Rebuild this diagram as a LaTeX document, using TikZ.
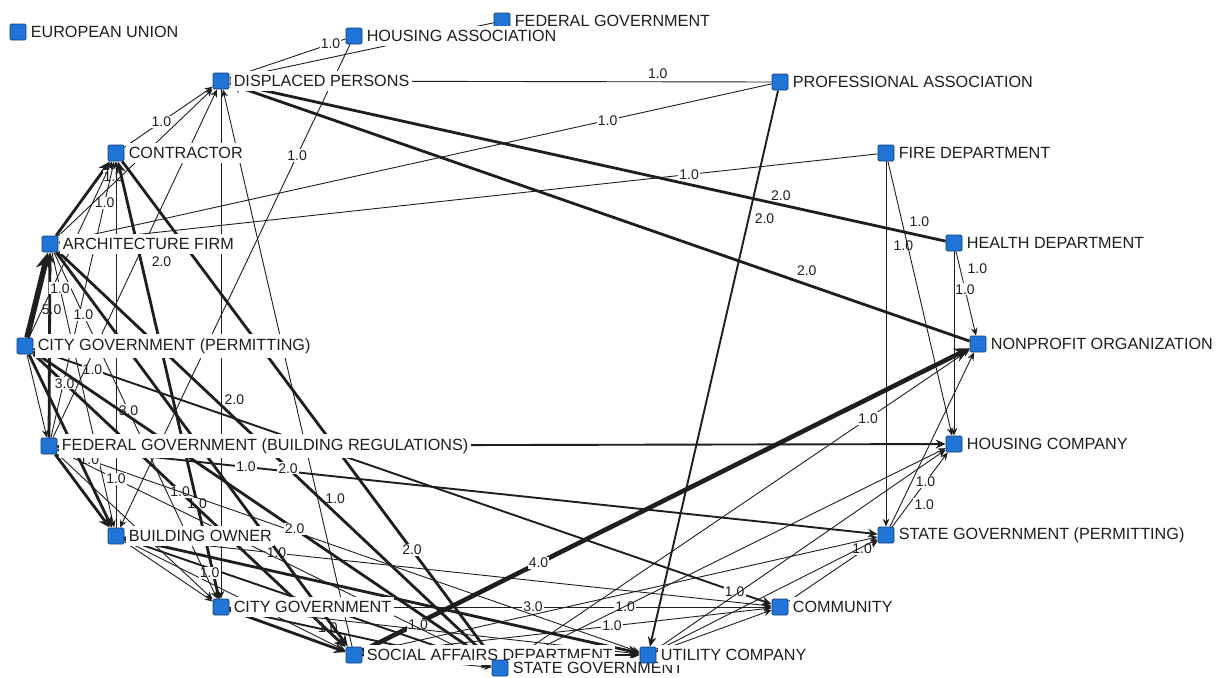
\documentclass[tikz,border=0pt]{standalone}
\usepackage{fontspec}
\setmainfont{Liberation Sans}
\usetikzlibrary{arrows.meta}
\definecolor{actorfill}{HTML}{1F74D6}
\definecolor{actorline}{HTML}{123E78}
\definecolor{ink}{HTML}{1E1E1E}
\pgfdeclarelayer{paper}
\pgfdeclarelayer{edges}
\pgfsetlayers{paper,edges,main}
\tikzset{
  actor/.style={draw=actorline,fill=actorfill,line width=0.4pt,minimum size=8pt,inner sep=0pt,rounded corners=0.7pt},
  tag/.style={fill=white,text=ink,inner xsep=1.2pt,inner ysep=2pt,font=\fontsize{8.1}{9}\selectfont},
  tie/.style={draw=ink,line width=0.45pt,-{Stealth[length=3pt 2,width=2.4pt 2]}},
  tie2/.style={tie,line width=0.95pt},
  tie3/.style={tie,line width=1.4pt},
  tie4/.style={tie,line width=2.3pt},
  tie5/.style={tie,line width=2.8pt},
  wt/.style={fill=white,text=ink,inner sep=0.6pt,font=\fontsize{7}{8}\selectfont},
}

\begin{document}
\begin{tikzpicture}[x=0.5pt,y=-0.5pt,every label/.style={label distance=0.8pt}]
\begin{pgfonlayer}{paper}
\fill[white] (0,0) rectangle (1227,677);
\end{pgfonlayer}
\useasboundingbox (0,0) rectangle (1227,677);
% actors
\node[actor,label={[tag]right:EUROPEAN UNION}] (eu) at (18,32) {};
\node[actor,label={[tag]right:FEDERAL GOVERNMENT}] (fedgov) at (502,21) {};
\node[actor,label={[tag]right:HOUSING ASSOCIATION}] (housa) at (354,36) {};
\node[actor,label={[tag]right:DISPLACED PERSONS}] (displ) at (221,81) {};
\node[actor,label={[tag]right:PROFESSIONAL ASSOCIATION}] (profa) at (780,82) {};
\node[actor,label={[tag]right:CONTRACTOR}] (contr) at (116,153) {};
\node[actor,label={[tag]right:FIRE DEPARTMENT}] (fired) at (886,153) {};
\node[actor,label={[tag]right:ARCHITECTURE FIRM}] (archf) at (50,244) {};
\node[actor,label={[tag]right:HEALTH DEPARTMENT}] (healthd) at (954,243) {};
\node[actor,label={[tag]right:CITY GOVERNMENT (PERMITTING)}] (citygp) at (25,346) {};
\node[actor,label={[tag]right:NONPROFIT ORGANIZATION}] (nonprof) at (978,344) {};
\node[actor,label={[tag]right:FEDERAL GOVERNMENT (BUILDING REGULATIONS)}] (fedbr) at (49,446) {};
\node[actor,label={[tag]right:HOUSING COMPANY}] (housco) at (954,444) {};
\node[actor,label={[tag]right:BUILDING OWNER}] (bowner) at (116,536) {};
\node[actor,label={[tag]right:STATE GOVERNMENT (PERMITTING)}] (stategp) at (886,535) {};
\node[actor,label={[tag]right:CITY GOVERNMENT}] (cityg) at (221,607) {};
\node[actor,label={[tag]right:COMMUNITY}] (commun) at (780,607) {};
\node[actor,label={[tag]right:SOCIAL AFFAIRS DEPARTMENT}] (socaff) at (354,655) {};
\node[actor,label={[tag]right:STATE GOVERNMENT}] (stateg) at (500,668) {};
\node[actor,label={[tag]right:UTILITY COMPANY}] (utilc) at (648,655) {};

\begin{pgfonlayer}{edges}
% top and right side
\draw[tie] (profa) -- (displ) node[wt,pos=.21,above=1pt]{1.0};
\draw[tie] (housa) -- (displ) node[wt,pos=.13]{1.0};
\draw[tie] (fedgov) -- (displ);
\draw[tie] (housa) -- (bowner) node[wt,pos=.23]{1.0};
\draw[tie3] (healthd) -- (displ) node[wt,pos=.23,above=1pt]{2.0};
\draw[tie3] (nonprof) -- (displ) node[wt,pos=.22,above=3pt]{2.0};
\draw[tie2] (profa) -- (utilc) node[wt,pos=.23,right=2pt]{2.0};
\draw[tie] (profa) -- (archf) node[wt,pos=.23]{1.0};
\draw[tie] (fired) -- (archf) node[wt,pos=.23]{1.0};
\draw[tie] (fired) -- (stategp) node[wt,pos=.23,right=3pt]{1.0};
\draw[tie] (fired) -- (housco) node[wt,pos=.22,right=3pt]{1.0};
\draw[tie] (healthd) -- (nonprof) node[wt,pos=.2,right=3pt]{1.0} node[wt,pos=.45]{1.0};
\draw[tie] (healthd) -- (housco);
\draw[tie4] (socaff) -- (nonprof) node[wt,pos=.29]{4.0};
\draw[tie] (stateg) -- (nonprof) node[wt,pos=.78]{1.0};
\draw[tie] (stategp) -- (nonprof);
\draw[tie] (stategp) -- (housco) node[wt,pos=.3,right=2pt]{1.0} node[wt,pos=.6]{1.0};
\draw[tie2] (fedbr) -- (housco);
\draw[tie2] (fedbr) -- (stategp) node[wt,pos=.23]{1.0};
\draw[tie2] (citygp) -- (commun) node[wt,pos=.08]{1.0} node[wt,pos=.95]{1.0};
\draw[tie] (cityg) -- (commun) node[wt,pos=.56]{3.0} node[wt,pos=.73]{1.0};
\draw[tie] (socaff) -- (commun) node[wt,pos=.61]{1.0};
\draw[tie] (utilc) -- (commun);
\draw[tie] (commun) -- (stategp);
\draw[tie] (stateg) -- (housco);
\draw[tie] (utilc) -- (housco);
\draw[tie] (socaff) -- (stategp) node[wt,pos=.97,below=1pt]{1.0};
\draw[tie] (utilc) -- (stategp);
% bottom
\draw[tie3] (bowner) -- (utilc);
\draw[tie2] (bowner) -- (stateg) node[wt,pos=.8,above=4pt]{1.0};
\draw[tie] (bowner) -- (commun) node[wt,pos=.235]{1.0};
\draw[tie] (bowner) -- (socaff);
\draw[tie] (bowner) -- (cityg);
\draw[tie] (cityg) -- (utilc) node[wt,pos=.24,below=1pt]{1.0};
\draw[tie3] (cityg) -- (socaff);
\draw[tie2] (cityg) -- (stateg);
\draw[tie] (socaff) -- (stateg);
\draw[tie3] (socaff) -- (utilc);
% left cluster
\draw[tie5] (citygp) -- (archf) node[wt,pos=.33,right=2pt]{5.0};
\draw[tie3] (fedbr) -- (archf);
\draw[tie3] (archf) -- (contr) node[wt,pos=.8,right=1pt]{1.0};
\draw[tie] (fedbr) -- (contr) node[wt,pos=.85]{1.0};
\draw[tie] (citygp) -- (contr);
\draw[tie] (bowner) -- (contr);
\draw[tie3] (cityg) -- (contr) node[wt,pos=.77,right=4pt]{2.0} node[wt,pos=.216]{1.0};
\draw[tie] (contr) -- (displ) node[wt,pos=.42]{1.0};
\draw[tie] (archf) -- (displ);
\draw[tie] (fedbr) -- (displ);
\draw[tie] (displ) -- (cityg) node[wt,pos=.61,right=1pt]{2.0} node[wt,pos=.95,left=0pt]{1.0};
\draw[tie] (socaff) -- (displ) node[wt,pos=.265,right=3pt]{1.0};
\draw[tie] (citygp) -- (fedbr);
\draw[tie3] (citygp) -- (socaff) node[wt,pos=.1]{3.0} node[wt,pos=.47]{1.0};
\draw[tie] (archf) -- (cityg) node[wt,pos=.18]{1.0} node[wt,pos=.457]{3.0};
\draw[tie3] (archf) -- (stateg) node[wt,pos=.53]{2.0};
\draw[tie3] (archf) -- (socaff);
\draw[tie] (archf) -- (bowner) node[wt,pos=.13]{1.0};
\draw[tie] (fedbr) -- (utilc) node[wt,pos=.055]{1.0};
\draw[tie] (fedbr) -- (stateg) node[wt,pos=.135]{1.0};
\draw[tie3] (fedbr) -- (bowner);
\draw[tie3] (citygp) -- (bowner);
\draw[tie] (fedbr) -- (cityg);
\draw[tie3] (citygp) -- (stateg) node[wt,pos=.57]{2.0};
\draw[tie3] (contr) -- (stateg) node[wt,pos=.78]{2.0};
\end{pgfonlayer}
\end{tikzpicture}
\end{document}
